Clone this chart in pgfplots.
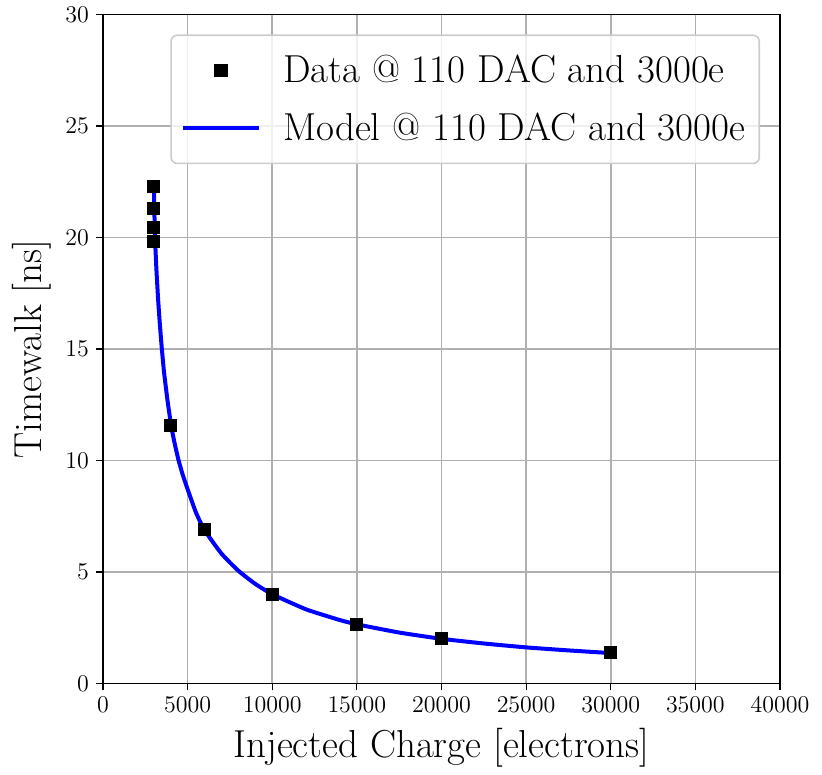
\documentclass[border=0pt]{standalone}
\usepackage{pgfplots}
\pgfplotsset{compat=1.18}
\begin{document}
\begin{tikzpicture}
\begin{axis}[
  scale only axis,
  width=338.5pt, height=334.5pt,
  xmin=0, xmax=40000, ymin=0, ymax=30,
  xtick={0,5000,...,40000},
  ytick={0,5,...,30},
  xtick pos=bottom, ytick pos=left,
  scaled x ticks=false,
  xticklabel style={/pgf/number format/1000 sep=},
  tick label style={font=\fontsize{12.3}{14}\selectfont},
  tick align=outside,
  major tick length=3.5pt,
  tick style={black, line width=0.6pt},
  axis line style={line width=0.7pt},
  grid=major,
  grid style={color=black!31, line width=0.8pt},
  xlabel={Injected Charge [electrons]},
  ylabel={Timewalk [ns]},
  label style={font=\fontsize{19.5}{23}\selectfont},
  xlabel style={yshift=-1pt},
  ylabel style={yshift=0pt},
  legend style={at={(0.9705,0.970)}, anchor=north east,
    font=\fontsize{19.5}{23.4}\selectfont,
    draw=black!20, line width=0.8pt, rounded corners=3pt,
    fill=white, fill opacity=0.8, text opacity=1,
    inner xsep=5pt, inner ysep=8pt,
    row sep=9.5pt, column sep=9pt},
  legend cell align=left,
  legend image code/.code={
    \draw[#1] (0pt,0pt) -- (38pt,0pt);
  },
]
\addplot[only marks, mark=square*, mark size=3pt, black,
  legend image code/.code={\draw[black, fill=black, fill opacity=1] plot[mark=square*, mark size=3pt] coordinates {(19pt,0pt)};}]
coordinates {
(3000,22.29) (3000,21.31) (3000,20.45) (3000,19.84)
(4000,11.57) (6000,6.89) (10000,3.98) (15000,2.63) (20000,2.0) (30000,1.38)
};
\addlegendentry{Data @ 110 DAC and 3000e}
\addplot[blue, line width=2pt, smooth, tension=0.3] coordinates {
(3010,22.3) (3040,21.0) (3072,20.0) (3150,18.65) (3250,17.3) (3350,16.2)
(3466,15.1) (3600,14.0) (3800,12.75) (4018,11.6) (4200,10.88) (4450,10.05)
(4700,9.38) (5040,8.62) (5500,7.65) (6000,6.87) (7000,5.82) (8000,5.05)
(9000,4.46) (10000,4.0) (12000,3.32) (14000,2.84) (15000,2.65)
(17500,2.28) (20000,2.0) (22500,1.79) (25000,1.615) (27500,1.48) (30000,1.36)
};
\addlegendentry{Model @ 110 DAC and 3000e}
\end{axis}
\path (current axis.south west) ++(-51.5pt,-42pt) coordinate (bbA);
\path (current axis.north east) ++(21pt,6.5pt) coordinate (bbB);
\useasboundingbox (bbA) rectangle (bbB);
\end{tikzpicture}
\end{document}
